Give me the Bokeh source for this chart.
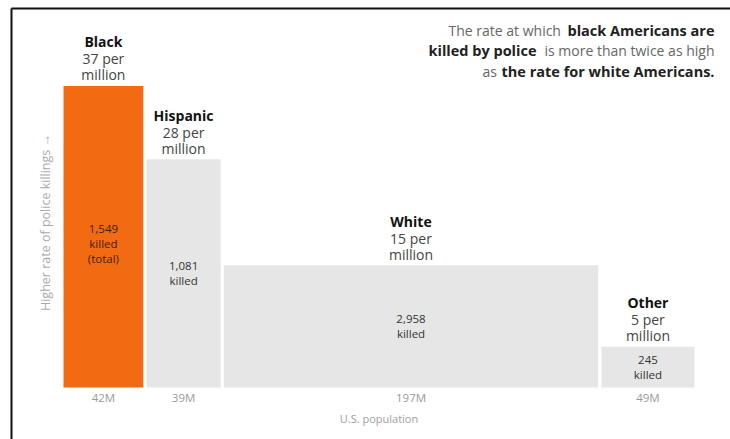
import math
from bokeh.plotting import figure
from bokeh.models import Range1d
from bokeh.core.properties import value
from bokeh.embed import file_html
from bokeh.resources import INLINE

# ---------------- data ----------------
groups = ["Black", "Hispanic", "White", "Other"]
population_m = [42, 39, 197, 49]
rate_per_million = [37, 28, 15, 5]
killed = [1549, 1081, 2958, 245]
killed_notes = [["killed", "(total)"], ["killed"], ["killed"], ["killed"]]
bar_colors = ["#f26a12", "#e6e6e6", "#e6e6e6", "#e6e6e6"]
inbar_text_colors = ["#3d1f0a", "#333333", "#333333", "#333333"]
x_axis_title = "U.S. population"
y_axis_title = "Higher rate of police killings \u2192"

# ---------------- layout / style ----------------
W, H = 730, 439
X0_PX = 63.0          # pixel of population 0
PX_PER_M = 1.9
GAP_M = 1.7
BASE_PX = 387.0       # pixel of rate 0
PX_PER_RATE = 8.15
FONT = "Open Sans"


def x_of(px):
    return (px - X0_PX) / PX_PER_M


def y_of(py):
    return (BASE_PX - py) / PX_PER_RATE


p = figure(width=W, height=H, output_backend="svg", toolbar_location=None,
           x_range=Range1d(x_of(0), x_of(W)), y_range=Range1d(y_of(H), y_of(0)),
           x_axis_type=None, y_axis_type=None, min_border=0)
p.grid.visible = False
p.outline_line_color = None
p.background_fill_color = "white"
p.border_fill_color = "white"

# bars
lefts, rights = [], []
acc = 0.0
for i, pop in enumerate(population_m):
    l = acc + i * GAP_M
    lefts.append(l)
    rights.append(l + pop)
    acc += pop
centers = [(l + r) / 2 for l, r in zip(lefts, rights)]

p.quad(left=lefts, right=rights, bottom=[0] * len(groups), top=rate_per_million,
       fill_color=bar_colors, line_color=None)

# labels above bars
p.text(x=centers, y=rate_per_million, text=groups, text_font=value(FONT),
       text_font_size="14px", text_font_style="bold", text_color="#111111",
       text_align="center", text_baseline="middle", y_offset=-44)
p.text(x=centers, y=rate_per_million, text=[f"{r} per" for r in rate_per_million],
       text_font=value(FONT), text_font_size="14px", text_color="#444444",
       text_align="center", text_baseline="middle", y_offset=-27)
p.text(x=centers, y=rate_per_million, text=["million"] * len(groups),
       text_font=value(FONT), text_font_size="14px", text_color="#444444",
       text_align="center", text_baseline="middle", y_offset=-11)

# text inside bars
for i in range(len(groups)):
    lines = [f"{killed[i]:,}"] + killed_notes[i]
    n = len(lines)
    shift = 7 if n > 2 else 0
    for j, t in enumerate(lines):
        p.text(x=[centers[i]], y=[rate_per_million[i] / 2], text=[t],
               text_font=value(FONT), text_font_size="11.5px",
               text_color=inbar_text_colors[i], text_align="center",
               text_baseline="middle", y_offset=(j - (n - 1) / 2) * 15 + shift)

# population "ticks"
p.text(x=centers, y=[0] * len(groups), text=[f"{v}M" for v in population_m],
       text_font=value(FONT), text_font_size="11.5px", text_color="#9a9a9a",
       text_align="center", text_baseline="middle", y_offset=10)
p.text(x=[(lefts[0] + rights[-1]) / 2], y=[0], text=[x_axis_title],
       text_font=value(FONT), text_font_size="11px", text_color="#a0a0a0",
       text_align="center", text_baseline="middle", y_offset=31)

# y axis title
p.text(x=[x_of(45)], y=[y_of(222)], text=[y_axis_title], angle=math.pi / 2,
       text_font=value(FONT), text_font_size="12.5px", text_color="#aaaaaa",
       text_align="center", text_baseline="middle")

# headline (right aligned, mixed weights)
head_normal = ["The rate at which", "is more than twice as high", "as"]
head_bold = ["black Americans are", "killed by police", "the rate for white Americans."]
line_py = [30, 50, 71]
HS = "14px"
HB = "14.5px"
p.text(x=[x_of(448)], y=[y_of(line_py[0])], text=[head_normal[0]], text_font=value(FONT),
       text_font_size=HS, text_color="#666666", text_align="left", text_baseline="middle")
p.text(x=[x_of(714)], y=[y_of(line_py[0])], text=[head_bold[0]], text_font=value(FONT),
       text_font_size=HB, text_font_style="bold", text_color="#222222",
       text_align="right", text_baseline="middle")
p.text(x=[x_of(428)], y=[y_of(line_py[1])], text=[head_bold[1]], text_font=value(FONT),
       text_font_size=HB, text_font_style="bold", text_color="#222222",
       text_align="left", text_baseline="middle")
p.text(x=[x_of(714)], y=[y_of(line_py[1])], text=[head_normal[1]], text_font=value(FONT),
       text_font_size=HS, text_color="#666666", text_align="right", text_baseline="middle")
p.text(x=[x_of(482)], y=[y_of(line_py[2])], text=[head_normal[2]], text_font=value(FONT),
       text_font_size=HS, text_color="#666666", text_align="left", text_baseline="middle")
p.text(x=[x_of(714)], y=[y_of(line_py[2])], text=[head_bold[2]], text_font=value(FONT),
       text_font_size=HB, text_font_style="bold", text_color="#222222",
       text_align="right", text_baseline="middle")

# frame border lines (top and left only)
p.segment(x0=[x_of(11), x_of(11)], y0=[y_of(8), y_of(8)],
          x1=[x_of(11), x_of(W + 2)], y1=[y_of(H + 2), y_of(8)],
          line_color="#111111", line_width=2)

open("out.html", "w").write(file_html(p, INLINE))
